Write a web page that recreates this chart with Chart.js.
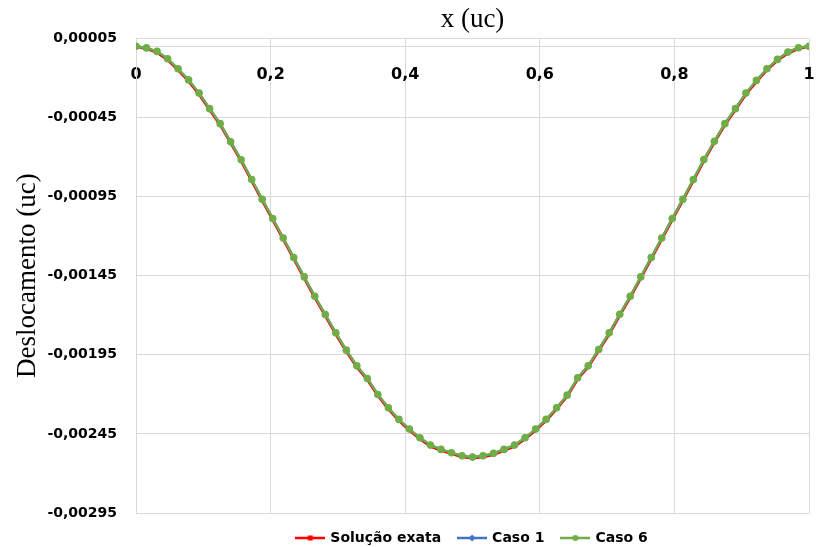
<!DOCTYPE html>
<html>
<head>
<meta charset="utf-8">
<script src="https://cdn.jsdelivr.net/npm/chart.js@4.4.1/dist/chart.umd.min.js"></script>
<style>
  html, body { margin: 0; padding: 0; background: #fff; }
  canvas { display: block; background: #fff; }
</style>
</head>
<body>
<canvas id="c" width="816" height="547"></canvas>
<script>
const xNodes = [0, 0.015625, 0.03125, 0.046875, 0.0625, 0.078125, 0.09375, 0.109375, 0.125, 0.140625, 0.15625, 0.171875, 0.1875, 0.203125, 0.21875, 0.234375, 0.25, 0.265625, 0.28125, 0.296875, 0.3125, 0.328125, 0.34375, 0.359375, 0.375, 0.390625, 0.40625, 0.421875, 0.4375, 0.453125, 0.46875, 0.484375, 0.5, 0.515625, 0.53125, 0.546875, 0.5625, 0.578125, 0.59375, 0.609375, 0.625, 0.640625, 0.65625, 0.671875, 0.6875, 0.703125, 0.71875, 0.734375, 0.75, 0.765625, 0.78125, 0.796875, 0.8125, 0.828125, 0.84375, 0.859375, 0.875, 0.890625, 0.90625, 0.921875, 0.9375, 0.953125, 0.96875, 0.984375, 1];

const solucaoExata = [0, -0.000015, -0.000038, -0.000085, -0.000148, -0.000219, -0.000302, -0.000400, -0.000495, -0.000610, -0.000724, -0.000849, -0.000973, -0.001095, -0.001218, -0.001341, -0.001464, -0.001586, -0.001701, -0.001818, -0.001927, -0.002026, -0.002106, -0.002207, -0.002291, -0.002365, -0.002426, -0.002481, -0.002527, -0.002554, -0.002575, -0.002594, -0.002602, -0.002594, -0.002580, -0.002554, -0.002527, -0.002481, -0.002426, -0.002365, -0.002291, -0.002211, -0.002102, -0.002026, -0.001923, -0.001818, -0.001700, -0.001586, -0.001464, -0.001341, -0.001218, -0.001095, -0.000973, -0.000849, -0.000723, -0.000607, -0.000495, -0.000400, -0.000302, -0.000222, -0.000148, -0.000089, -0.000043, -0.000014, 0];

const caso1 = [0, -0.0000101, -0.0000322, -0.0000783, -0.0001415, -0.0002122, -0.0002956, -0.0003941, -0.0004889, -0.0006038, -0.0007175, -0.0008425, -0.000967, -0.0010889, -0.0012114, -0.0013352, -0.0014577, -0.0015796, -0.0016952, -0.0018114, -0.0019207, -0.0020199, -0.0020995, -0.0022005, -0.0022851, -0.0023584, -0.0024197, -0.0024746, -0.0025207, -0.0025479, -0.0025693, -0.0025883, -0.0025965, -0.0025883, -0.0025731, -0.0025479, -0.0025207, -0.0024746, -0.0024197, -0.0023584, -0.0022851, -0.0022049, -0.0020957, -0.0020199, -0.0019163, -0.0018114, -0.0016933, -0.0015796, -0.0014577, -0.0013352, -0.0012114, -0.0010889, -0.000967, -0.0008425, -0.0007162, -0.0006007, -0.0004889, -0.0003941, -0.0002956, -0.0002154, -0.0001415, -0.0000827, -0.0000366, -0.0000088, 0];

const caso6 = [0, -0.0000101, -0.0000322, -0.0000783, -0.0001415, -0.0002122, -0.0002956, -0.0003941, -0.0004889, -0.0006038, -0.0007175, -0.0008425, -0.000967, -0.0010889, -0.0012114, -0.0013352, -0.0014577, -0.0015796, -0.0016952, -0.0018114, -0.0019207, -0.0020199, -0.0020995, -0.0022005, -0.0022851, -0.0023584, -0.0024197, -0.0024746, -0.0025207, -0.0025479, -0.0025693, -0.0025883, -0.0025965, -0.0025883, -0.0025731, -0.0025479, -0.0025207, -0.0024746, -0.0024197, -0.0023584, -0.0022851, -0.0022049, -0.0020957, -0.0020199, -0.0019163, -0.0018114, -0.0016933, -0.0015796, -0.0014577, -0.0013352, -0.0012114, -0.0010889, -0.000967, -0.0008425, -0.0007162, -0.0006007, -0.0004889, -0.0003941, -0.0002956, -0.0002154, -0.0001415, -0.0000827, -0.0000366, -0.0000088, 0];

const yTickValues = [0.00005, -0.00045, -0.00095, -0.00145, -0.00195, -0.00245, -0.00295];
const xTickValues = [0, 0.2, 0.4, 0.6, 0.8, 1];
const seriesNames = ['Solução exata', 'Caso 1', 'Caso 6'];

const RED = '#FF0000', BLUE = '#4472C4', GREEN = '#70AD47';
const GRID = '#D9D9D9';

function pts(ys) { return ys.map((y, i) => ({ x: xNodes[i], y: y })); }

function legendIcon(color, shape) {
  const c = document.createElement('canvas');
  c.width = 30; c.height = 12;
  const g = c.getContext('2d');
  g.strokeStyle = color; g.lineWidth = 2.5;
  g.beginPath(); g.moveTo(0, 6); g.lineTo(30, 6); g.stroke();
  g.fillStyle = color;
  if (shape === 'circle') { g.beginPath(); g.arc(15, 6, 3, 0, Math.PI * 2); g.fill(); }
  else if (shape === 'diamond') { g.beginPath(); g.moveTo(15, 2.5); g.lineTo(18.5, 6); g.lineTo(15, 9.5); g.lineTo(11.5, 6); g.closePath(); g.fill(); }
  else { g.fillRect(12.5, 3.5, 5, 5); }
  return c;
}
const icons = [legendIcon(RED, 'rect'), legendIcon(BLUE, 'diamond'), legendIcon(GREEN, 'circle')];

const fmt = v => (Math.round(v * 100000) / 100000).toFixed(5).replace('.', ',');

new Chart(document.getElementById('c'), {
  type: 'line',
  data: {
    datasets: [
      { label: seriesNames[0], data: pts(solucaoExata), borderColor: RED, backgroundColor: RED, borderWidth: 3, pointStyle: 'rect', pointRadius: 2.5, pointBorderWidth: 0, order: 3 },
      { label: seriesNames[1], data: pts(caso1), borderColor: BLUE, backgroundColor: BLUE, borderWidth: 2.25, pointStyle: 'rectRot', pointRadius: 3.5, pointBorderWidth: 0, order: 2 },
      { label: seriesNames[2], data: pts(caso6), borderColor: GREEN, backgroundColor: GREEN, borderWidth: 2.25, pointStyle: 'circle', pointRadius: 3.8, pointBorderWidth: 0, order: 1 }
    ]
  },
  options: {
    responsive: false,
    animation: false,
    layout: { padding: { left: 0, right: 7, top: 0, bottom: -8 } },
    plugins: {
      title: {
        display: true, text: 'x (uc)', color: '#000', fullSize: false,
        font: { family: 'Liberation Serif', size: 27, weight: 'normal' },
        padding: { top: 4, bottom: 2 }
      },
      legend: {
        position: 'bottom', fullSize: false,
        labels: {
          color: '#000',
          font: { family: 'DejaVu Sans', size: 14, weight: 'bold' },
          usePointStyle: true, pointStyleWidth: 26, boxHeight: 14, padding: 18,
          sort: (a, b) => a.datasetIndex - b.datasetIndex,
          generateLabels: chart => chart.data.datasets.map((ds, i) => ({
            text: ds.label, datasetIndex: i, pointStyle: icons[i],
            fillStyle: ds.borderColor, strokeStyle: ds.borderColor, lineWidth: 0, hidden: false, fontColor: '#000'
          }))
        }
      },
      tooltip: { enabled: false }
    },
    scales: {
      x: {
        type: 'linear', min: 0, max: 1,
        position: { y: 0 },
        afterBuildTicks: s => { s.ticks = xTickValues.map(v => ({ value: v })); },
        ticks: {
          color: '#000', padding: 0,
          font: { family: 'DejaVu Sans', size: 16, weight: 'bold' },
          callback: v => String(Math.round(v * 10) / 10).replace('.', ',')
        },
        grid: { color: GRID, lineWidth: 1, drawTicks: true, tickLength: 19, tickColor: 'rgba(0,0,0,0)' },
        border: { color: GRID, width: 1 }
      },
      y: {
        type: 'linear', min: -0.00295, max: 0.00005,
        afterBuildTicks: s => { s.ticks = yTickValues.map(v => ({ value: v })); },
        afterFit: s => { s.width = 136; },
        ticks: {
          color: '#000', padding: 19,
          font: { family: 'DejaVu Sans', size: 14, weight: 'bold' },
          callback: v => fmt(v)
        },
        grid: { color: GRID, lineWidth: 1, drawTicks: false },
        border: { color: GRID, width: 1 },
        title: {
          display: true, text: 'Deslocamento (uc)', color: '#000',
          font: { family: 'Liberation Serif', size: 27, weight: 'normal' },
          padding: { top: 12, bottom: 0 }
        }
      }
    }
  }
});
</script>
</body>
</html>
